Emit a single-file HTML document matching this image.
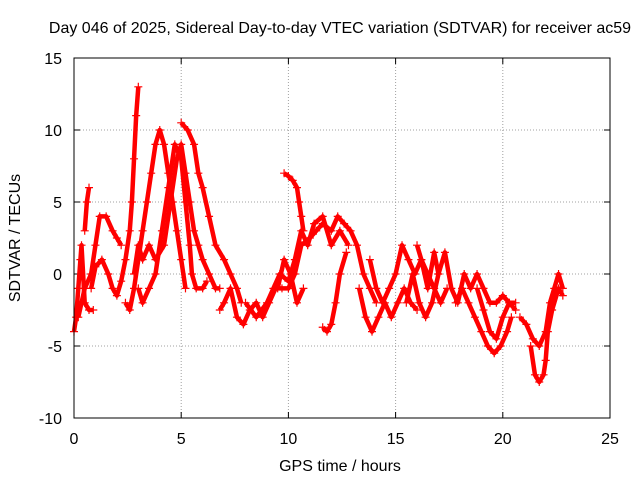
<!DOCTYPE html>
<html><head><meta charset="utf-8"><style>
html,body{margin:0;padding:0;background:#fff}
svg{display:block;font-family:"Liberation Sans",sans-serif}
</style></head><body>
<svg id="chart" width="640" height="480">
<text x="340" y="33" text-anchor="middle" font-size="16">Day 046 of 2025, Sidereal Day-to-day VTEC variation (SDTVAR) for receiver ac59</text>
<text x="340" y="471" text-anchor="middle" font-size="16">GPS time / hours</text>
<text transform="translate(20,238) rotate(-90)" text-anchor="middle" font-size="16">SDTVAR / TECUs</text>
<g id="grid"></g>
<g id="ticks"></g>
<g id="series"></g>
<rect x="74" y="58" width="536" height="360" fill="none" stroke="#000" stroke-width="1"/>
</svg>
<script>
const xTicks=[0,5,10,15,20,25];
const yTicks=[-10,-5,0,5,10,15];
const tracks=[
[[0,-4],[0.1,-3],[0.2,-1],[0.3,1],[0.35,2],[0.5,-2],[0.7,-2.5],[0.9,-2.5]],
[[0.2,-3],[0.5,-1],[0.8,0],[1.0,2],[1.2,4],[1.5,4],[1.8,3],[2.0,2.5],[2.2,2]],
[[0.5,3],[0.6,5],[0.7,6]],
[[0.8,-1],[1,0.5],[1.3,1],[1.6,0],[1.8,-1],[2,-1.5],[2.2,-0.5],[2.4,1],[2.6,3],[2.7,5],[2.8,8],[2.9,11],[3.0,13]],
[[2.4,-2],[2.6,-2.5],[2.8,-1],[3,1],[3.2,3],[3.4,5],[3.6,7],[3.8,9],[4.0,10],[4.2,9],[4.4,7],[4.6,5],[4.8,3],[5.0,1],[5.2,-1]],
[[2.8,0],[3.0,2],[3.2,1],[3.5,2],[3.8,1],[4.2,2],[4.5,5],[4.8,8],[5.0,9],[5.2,7],[5.4,5],[5.6,3],[5.8,2],[6,1],[6.3,0],[6.6,-1],[6.8,-1]],
[[3.0,-1],[3.2,-2],[3.5,-1],[3.8,0],[4.1,3],[4.4,6],[4.7,9],[5.0,8],[5.2,5],[5.4,2],[5.5,0],[5.7,-1],[6,-1],[6.2,-0.5]],
[[5.0,10.5],[5.3,10],[5.6,9],[5.8,7],[6.0,6],[6.3,4],[6.6,2],[7.0,1],[7.3,0],[7.6,-1],[7.8,-2]],
[[6.8,-2.5],[7.0,-2],[7.3,-1],[7.6,-3],[7.9,-3.5],[8.2,-2.5],[8.5,-2],[8.8,-3],[9.1,-2],[9.4,-1],[9.7,-1],[10,-1],[10.3,0],[10.6,2],[11,2.5],[11.3,3],[11.6,3.5],[12,3],[12.3,4],[12.6,3.5],[12.9,3],[13.2,2],[13.5,0],[13.8,-1],[14.1,-2]],
[[8,-2],[8.5,-3],[9,-2],[9.3,-1],[9.6,0],[10,-0.5],[10.3,1],[10.6,3],[10.9,2],[11.2,3.5],[11.6,4],[12,2],[12.4,3],[12.8,2]],
[[9.5,-1],[9.8,1],[10.1,0],[10.4,-2],[10.7,-1]],
[[9.8,7],[10.0,6.8],[10.2,6.5],[10.4,6],[10.5,5],[10.6,4],[10.7,3]],
[[11.6,-3.7],[11.8,-4],[12,-3.5],[12.2,-2],[12.4,0],[12.7,1.5]],
[[13.3,-1],[13.6,-3],[13.9,-4],[14.2,-3],[14.5,-2],[14.8,-3],[15.1,-2],[15.4,-1],[15.7,-2],[16,-2.5]],
[[13.8,1],[14.1,-1],[14.4,-2],[14.7,-1],[15,0],[15.3,2],[15.6,1],[15.9,0],[16.2,1],[16.5,0],[16.8,-1],[17.1,-2],[17.4,-1]],
[[15.5,-2],[15.8,0],[16.1,-2],[16.4,-3],[16.7,-2],[17,0],[17.3,1.5],[17.6,-1],[17.9,-2],[18.2,0],[18.5,-1],[18.8,0],[19.1,-1],[19.4,-2],[19.7,-2],[20,-1.5],[20.3,-2],[20.6,-2.5]],
[[17.8,-2],[18.1,-1],[18.4,-2],[18.7,-3],[19.0,-4],[19.3,-5],[19.6,-5.5],[19.9,-5],[20.2,-4],[20.4,-3]],
[[18.8,-1],[19.1,-2.5],[19.4,-4],[19.7,-4.5],[20.0,-3],[20.3,-2],[20.6,-2]],
[[20.8,-3],[21.1,-3.5],[21.4,-4.5],[21.7,-5],[22,-4],[22.2,-2],[22.4,-1],[22.6,0],[22.8,-1]],
[[21.3,-5],[21.5,-7],[21.7,-7.5],[21.9,-7],[22.0,-6],[22.1,-4],[22.3,-2.5],[22.6,-1],[22.8,-1.5]],
[[16,2],[16.2,1],[16.5,-1],[16.8,1.5],[17,0]]
];
const NS="http://www.w3.org/2000/svg";
const X0=74,X1=610,Y0=418,Y1=58;
const sx=v=>X0+(v-0)/(25-0)*(X1-X0);
const sy=v=>Y0-(v+10)/(15+10)*(Y0-Y1);
function mk(tag,attrs,parent){const e=document.createElementNS(NS,tag);for(const k in attrs)e.setAttribute(k,attrs[k]);parent.appendChild(e);return e;}
const grid=document.getElementById('grid'),ticks=document.getElementById('ticks'),series=document.getElementById('series');
xTicks.forEach(t=>{
  const x=sx(t);
  if(t>0&&t<25){const g=mk('line',{x1:x,x2:x,y1:Y1,y2:Y0,stroke:'#a0a0a0','stroke-dasharray':'1,2'},grid);
  
  }
  mk('line',{x1:x,x2:x,y1:Y0,y2:Y0-6,stroke:'#000'},ticks);
  mk('line',{x1:x,x2:x,y1:Y1,y2:Y1+6,stroke:'#000'},ticks);
  const l=mk('text',{x:x,y:Y0+26,'text-anchor':'middle','font-size':16},ticks);
  l.textContent=t;
  
  
});
yTicks.forEach(t=>{
  const y=sy(t);
  if(t>-10&&t<15){const g=mk('line',{x1:X0,x2:X1,y1:y,y2:y,stroke:'#a0a0a0','stroke-dasharray':'1,2'},grid);
  
  }
  mk('line',{x1:X0,x2:X0+6,y1:y,y2:y,stroke:'#000'},ticks);
  mk('line',{x1:X1,x2:X1-6,y1:y,y2:y,stroke:'#000'},ticks);
  const l=mk('text',{x:X0-12,y:y+6,'text-anchor':'end','font-size':16},ticks);
  l.textContent=t;
  
  
});
tracks.forEach((tr,i)=>{
  const pl=mk('polyline',{points:tr.map(p=>sx(p[0])+','+sy(p[1])).join(' '),fill:'none',stroke:'#ff0000','stroke-width':4.5,'stroke-linejoin':'round'},series);
  
  
  tr.forEach(p=>{
    const x=sx(p[0]),y=sy(p[1]);
    const m=mk('path',{d:`M${x-4},${y}h8M${x},${y-4}v8`,stroke:'#ff0000','stroke-width':1.2},series);
    
    
  });
});
</script>
</body></html>
